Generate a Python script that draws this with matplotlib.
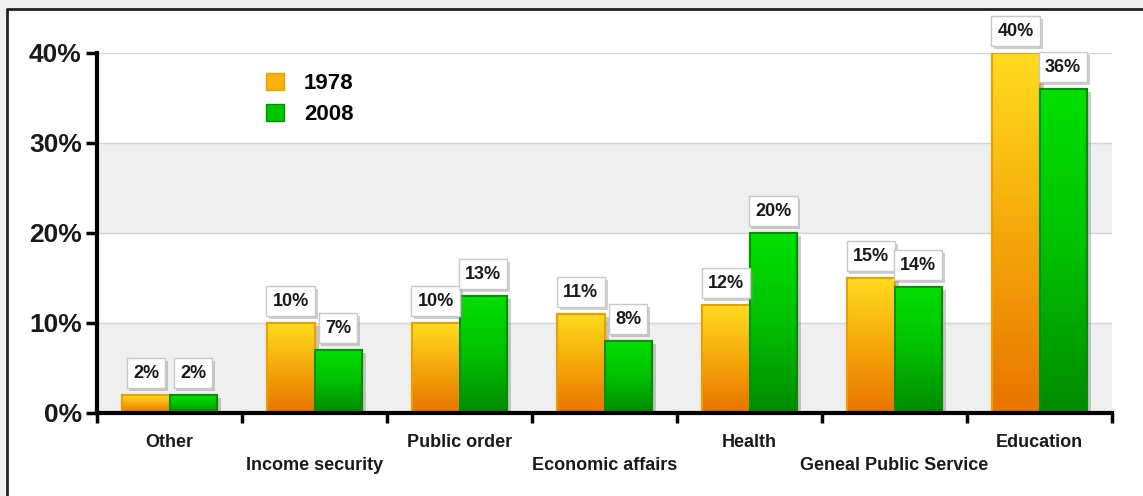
import matplotlib.pyplot as plt
import numpy as np
from matplotlib.patches import Rectangle
from matplotlib.lines import Line2D
from matplotlib.colors import LinearSegmentedColormap
import matplotlib.patheffects as pe

plt.rcParams['font.family'] = ['Liberation Sans', 'DejaVu Sans']
plt.rcParams['font.weight'] = 'bold'

CATEGORIES = ['Other', 'Income security', 'Public order', 'Economic affairs',
              'Health', 'Geneal Public Service', 'Education']
Y1978 = [2, 10, 10, 11, 12, 15, 40]
Y2008 = [2, 7, 13, 8, 20, 14, 36]
YEARS = ['1978', '2008']

W, H = 1143, 496
fig = plt.figure(figsize=(W / 100, H / 100), dpi=100)
fig.patch.set_facecolor('#efefef')
# white panel with dark frame (top and left edges only visible)
fig.patches.append(Rectangle((7 / W, 0), 1, 1 - 9 / H, transform=fig.transFigure,
                             facecolor='white', edgecolor='none', zorder=-10))
fig.add_artist(Line2D([7 / W, 7 / W, 1], [0, 1 - 9 / H, 1 - 9 / H], transform=fig.transFigure,
                      color='#222222', lw=2, zorder=-9))

ax = fig.add_axes([97 / W, 1 - 413 / H, (1112 - 97) / W, (413 - 53) / H])
ax.set_facecolor('none')

# background bands + grid
for lo in (0, 20):
    ax.axhspan(lo, lo + 10, color='#efefef', zorder=0, lw=0)
for g in (10, 20, 30, 40):
    ax.axhline(g, color='#d4d4d4', lw=1, zorder=0.5)

orange_cm = LinearSegmentedColormap.from_list('o', ['#e87400', '#f5a80a', '#ffdc20'])
green_cm = LinearSegmentedColormap.from_list('g', ['#008a00', '#00c000', '#00e000'])

x = np.arange(len(CATEGORIES)) + 0.5
bw = 0.325
series = [(Y1978, -bw / 2, orange_cm, '#eaa000'), (Y2008, bw / 2, green_cm, '#009000')]
grad = np.linspace(0, 1, 256).reshape(-1, 1)

for vals, off, cm, ec in series:
    bars = ax.bar(x + off, vals, width=bw, color=cm(0.5), edgecolor=ec, linewidth=1.5, zorder=2,
                  path_effects=[pe.SimplePatchShadow(offset=(3, -2), shadow_rgbFace='#999999', alpha=0.5),
                                pe.Normal()])
    for b, v in zip(bars, vals):
        x0, w, h = b.get_x(), b.get_width(), b.get_height()
        ax.imshow(grad, cmap=cm, origin='lower', aspect='auto',
                  extent=[x0, x0 + w, 0, h], zorder=2.5)
        ax.add_patch(Rectangle((x0, 0), w, h, facecolor='none', edgecolor=ec, linewidth=1.5, zorder=3))
        t = ax.annotate(f'{v}%', (x0 + w / 2, h), xytext=(0, 9.5), textcoords='offset points',
                        ha='center', va='bottom', fontsize=13, fontweight='bold', color='#1a1a1a',
                        zorder=5,
                        bbox=dict(boxstyle='square,pad=0.35', fc='white', ec='#c8c8c8', lw=1))
        t.get_bbox_patch().set_path_effects([
            pe.SimplePatchShadow(offset=(2, -2), shadow_rgbFace='#888888', alpha=0.4), pe.Normal()])

ax.set_xlim(0, len(CATEGORIES))
ax.set_ylim(0, 40)

ax.set_yticks([0, 10, 20, 30, 40])
ax.set_yticklabels(['0%', '10%', '20%', '30%', '40%'], fontsize=19, fontweight='bold', color='#1a1a1a')
ax.tick_params(axis='y', length=8, width=2.5, pad=3, color='black')

ax.set_xticks(np.arange(len(CATEGORIES) + 1))
ax.set_xticklabels([])
ax.tick_params(axis='x', which='major', length=7, width=2.5, color='black')
ax.set_xticks(x, minor=True)
ax.set_xticklabels([c if i % 2 == 0 else '\n' + c for i, c in enumerate(CATEGORIES)],
                   minor=True, fontsize=13, fontweight='bold', linespacing=1.5, color='#1a1a1a')
ax.tick_params(axis='x', which='minor', length=0, pad=15)

for s in ('top', 'right'):
    ax.spines[s].set_visible(False)
for s in ('left', 'bottom'):
    ax.spines[s].set_linewidth(3)
    ax.spines[s].set_zorder(4)

handles = [Rectangle((0, 0), 1, 1, facecolor=cm(0.6), edgecolor=ec, lw=1)
           for _, _, cm, ec in series]
ax.legend(handles, YEARS, loc='upper left', bbox_to_anchor=(266 / W, 1 - 73 / H),
          bbox_transform=fig.transFigure, frameon=False, prop={'size': 16, 'weight': 'bold'},
          handlelength=0.8, handleheight=0.8, handletextpad=0.9, labelspacing=0.45,
          borderpad=0, borderaxespad=0)

fig.savefig('out.png', dpi=100)
